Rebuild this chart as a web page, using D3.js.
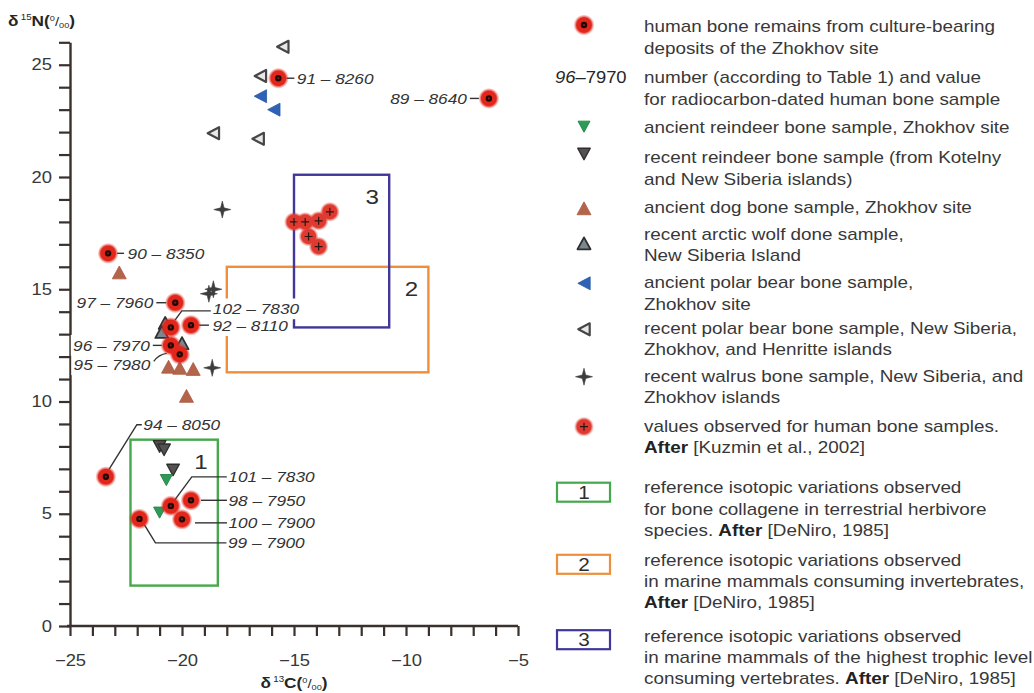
<!DOCTYPE html>
<html>
<head>
<meta charset="utf-8">
<script src="https://cdn.jsdelivr.net/npm/d3@7"></script>
<style>
  html, body { margin: 0; padding: 0; background: #ffffff; }
  svg { display: block; font-family: "Liberation Sans", Arial, Helvetica, sans-serif; }
</style>
</head>
<body>
<svg id="chart" width="1034" height="693"></svg>
<script>
// ---------------------------------------------------------------
// δ13C (‰) and δ15N (‰) values, one array per sample group
// ---------------------------------------------------------------

// radiocarbon-dated human bone: number (Table 1), age, δ13C, δ15N
const humanIds  = ["91", "89", "90", "97", "102", "92", "96", "95", "94", "101", "98", "100", "99"];
const humanAges = ["8260", "8640", "8350", "7960", "7830", "8110", "7970", "7980", "8050", "7830", "7950", "7900", "7900"];
const humanC    = [-15.7, -6.3, -23.3, -20.3, -20.5, -19.6, -20.5, -20.1, -23.4, -20.5, -19.6, -20.0, -21.9];
const humanN    = [24.4, 23.5, 16.6, 14.4, 13.3, 13.4, 12.5, 12.1, 6.65, 5.35, 5.6, 4.75, 4.77];

// [δ13C, δ15N] pairs
const reindeerAncient = [[-20.7, 6.5], [-21.0, 5.05]];
const reindeerRecent  = [[-21.0, 8.0], [-20.8, 7.85], [-20.4, 6.95]];
const dogAncient      = [[-22.8, 15.75], [-20.6, 11.55], [-20.1, 11.5], [-19.5, 11.45], [-19.8, 10.25]];
const wolfRecent      = [[-20.75, 13.5], [-20.9, 13.1], [-20.0, 12.6]];
const bearAncient     = [[-16.5, 23.6], [-15.9, 23.0]];
const bearRecent      = [[-15.5, 25.8], [-16.5, 24.5], [-18.6, 21.95], [-16.6, 21.7]];
const walrusRecent    = [[-18.2, 18.55], [-18.8, 14.8], [-18.6, 15.0], [-18.65, 11.5]];
const humanKuzmin     = [[-15.0, 18.0], [-14.5, 18.0], [-13.9, 18.05], [-13.4, 18.45], [-14.35, 17.35], [-13.9, 16.9]];

// reference ranges after DeNiro (1985): δ13C span, δ15N span
const rangeIds = ["1", "2", "3"];
const rangeC   = [[-22.3, -18.4], [-18.0, -9.0], [-15.0, -10.75]];
const rangeN   = [[1.8, 8.3], [11.3, 16.0], [13.3, 20.1]];

// axis ticks
const xTicks = d3.range(-25, -4, 1);
const yTicks = d3.range(0, 27, 1);
const xTickLabels = [-25, -20, -15, -10, -5];
const yTickLabels = [0, 5, 10, 15, 20, 25];

// legend text
const legendRows = [
  { mark: "humanDated",      lines: ["human bone remains from culture-bearing", "deposits of the Zhokhov site"] },
  { mark: "sampleLabel",     lines: ["number (according to Table 1) and value", "for radiocarbon-dated human bone sample"] },
  { mark: "reindeerAncient", lines: ["ancient reindeer bone sample, Zhokhov site"] },
  { mark: "reindeerRecent",  lines: ["recent reindeer bone sample (from Kotelny", "and New Siberia islands)"] },
  { mark: "dogAncient",      lines: ["ancient dog bone sample, Zhokhov site"] },
  { mark: "wolfRecent",      lines: ["recent arctic wolf done sample,", "New Siberia Island"] },
  { mark: "bearAncient",     lines: ["ancient polar bear bone sample,", "Zhokhov site"] },
  { mark: "bearRecent",      lines: ["recent polar bear bone sample, New Siberia,", "Zhokhov, and Henritte islands"] },
  { mark: "walrusRecent",    lines: ["recent walrus bone sample, New Siberia, and", "Zhokhov islands"] },
  { mark: "humanKuzmin",     lines: ["values observed for human bone samples.", "After [Kuzmin et al., 2002]"] },
  { mark: "range1",          lines: ["reference isotopic variations observed", "for bone collagene in terrestrial herbivore", "species. After [DeNiro, 1985]"] },
  { mark: "range2",          lines: ["reference isotopic variations observed", "in marine mammals consuming invertebrates,", "After [DeNiro, 1985]"] },
  { mark: "range3",          lines: ["reference isotopic variations observed", "in marine mammals of the highest trophic level", "consuming vertebrates. After [DeNiro, 1985]"] }
];

// ---------------------------------------------------------------
// layout
// ---------------------------------------------------------------
const S = 1.15;                 // horizontal text stretch
const svg = d3.select("#chart");
const x = d3.scaleLinear().domain([-25, -5]).range([70, 518]);
const y = d3.scaleLinear().domain([0, 26]).range([626, 626 - 26 * 22.45]);

const INK = "#3a302c";
const TEXT = "#383838";
const rangeColors = ["#45a84b", "#ef8f3b", "#41379a"];

// label placement around each dated sample (pixel offsets from the mark)
const labelLayout = {
  "91":  { leader: [[8, 0], [16, 0]], dx: 18.5, dy: 5.5, anchor: "start" },
  "89":  { leader: [[-19, 0], [-10, 0]], dx: -22, dy: 5.5, anchor: "end" },
  "90":  { leader: [[9, 0], [16, 0]], dx: 19.5, dy: 5.5, anchor: "start" },
  "97":  { leader: [[-19, 0], [-9, 0]], dx: -22, dy: 5.5, anchor: "end" },
  "102": { leader: [[4, -7], [11, -16.5], [40, -16.5]], dx: 42, dy: -13, anchor: "start" },
  "92":  { leader: [[8, 0], [18, 0]], dx: 21.5, dy: 6, anchor: "start" },
  "96":  { leader: [[-18, 0], [-9, 0]], dx: -21, dy: 5.5, anchor: "end" },
  "95":  { curve: "M-26,7 Q-21,0 -13,-1", dx: -29.5, dy: 16, anchor: "end" },
  "94":  { leader: [[3, -7], [31, -52], [36, -52]], dx: 37.5, dy: -46.5, anchor: "start" },
  "101": { leader: [[4, -6], [21, -29], [56, -29]], dx: 57.5, dy: -23.5, anchor: "start" },
  "98":  { leader: [[10, 0], [36, 0]], dx: 37.5, dy: 5.5, anchor: "start" },
  "100": { leader: [[13, 3.5], [45, 3.5]], dx: 46.5, dy: 9, anchor: "start" },
  "99":  { leader: [[5, 6], [16, 24], [87, 24]], dx: 88.5, dy: 29.5, anchor: "start" }
};

// legend placement: baseline of first text line, marker centre
const legendTextX = 644, legendMarkX = 584, legendLineStep = 21.2;
const legendBaselines = [32.3, 83.3, 133.3, 163.3, 213.3, 240, 288.3, 334, 381.7, 431.7, 493.3, 566, 641.7];
const legendMarkY     = [25, 77.7, 126.7, 154, 208.3, 243.3, 283.3, 329.3, 376.7, 426.7, 492.2, 564.3, 639.7];

// ---------------------------------------------------------------
// symbol shapes
// ---------------------------------------------------------------
const triUp = { draw(ctx, size) { const s = Math.sqrt(size), h = s * 0.92;
  ctx.moveTo(0, -h / 2); ctx.lineTo(s / 2, h / 2); ctx.lineTo(-s / 2, h / 2); ctx.closePath(); } };
const triDown = { draw(ctx, size) { const s = Math.sqrt(size), h = s * 0.92;
  ctx.moveTo(0, h / 2); ctx.lineTo(s / 2, -h / 2); ctx.lineTo(-s / 2, -h / 2); ctx.closePath(); } };
const triLeft = { draw(ctx, size) { const s = Math.sqrt(size), h = s * 0.95;
  ctx.moveTo(-h / 2, 0); ctx.lineTo(h / 2, -s / 2); ctx.lineTo(h / 2, s / 2); ctx.closePath(); } };
const star4 = { draw(ctx, size) { const r = Math.sqrt(size) / 2, w = r * 0.2;
  ctx.moveTo(0, -r); ctx.lineTo(w, -w); ctx.lineTo(r, 0); ctx.lineTo(w, w);
  ctx.lineTo(0, r); ctx.lineTo(-w, w); ctx.lineTo(-r, 0); ctx.lineTo(-w, -w); ctx.closePath(); } };

const markStyles = {
  reindeerAncient: { type: triDown, side: 12, fill: "#2f9a57", stroke: "#2b8a4e", sw: 1 },
  reindeerRecent:  { type: triDown, side: 12.5, fill: "#555150", stroke: "#2e2e2e", sw: 1.4 },
  dogAncient:      { type: triUp,   side: 14, fill: "#b4644b", stroke: "#a85a42", sw: 0.8 },
  wolfRecent:      { type: triUp,   side: 13, fill: "#7b8891", stroke: "#2f2f2f", sw: 1.8 },
  bearAncient:     { type: triLeft, side: 13, fill: "#2f62b6", stroke: "#2a57a4", sw: 0.8 },
  bearRecent:      { type: triLeft, side: 12, fill: "#e8e8e8", stroke: "#464646", sw: 2.2 },
  walrusRecent:    { type: star4,   side: 17, fill: "#3d3d3d", stroke: "#3d3d3d", sw: 0.6 }
};

// soft red discs for the human samples
const defs = svg.append("defs");
function glow(id, color) {
  const g = defs.append("radialGradient").attr("id", id);
  g.append("stop").attr("offset", "0%").attr("stop-color", color);
  g.append("stop").attr("offset", "70%").attr("stop-color", color);
  g.append("stop").attr("offset", "84%").attr("stop-color", color).attr("stop-opacity", 0.45);
  g.append("stop").attr("offset", "100%").attr("stop-color", color).attr("stop-opacity", 0);
}
glow("glowDated", "#e2261b");
glow("glowKuzmin", "#e03a30");

function drawMark(g, kind) {
  if (kind === "humanDated") {
    g.append("circle").attr("r", 10.5).attr("fill", "url(#glowDated)");
    g.append("circle").attr("r", 3.2).attr("fill", "#1c0906");
    g.append("circle").attr("r", 1.1).attr("fill", "#8e1b10");
  } else if (kind === "humanKuzmin") {
    g.append("circle").attr("r", 10).attr("fill", "url(#glowKuzmin)");
    g.append("path").attr("d", "M-4,0H4M0,-4V4").attr("stroke", "#2a1512").attr("stroke-width", 1.2);
  } else {
    const st = markStyles[kind];
    g.append("path")
      .attr("d", d3.symbol().type(st.type).size(st.side * st.side)())
      .attr("fill", st.fill).attr("stroke", st.stroke).attr("stroke-width", st.sw)
      .attr("stroke-linejoin", "round");
  }
}

// text placed with the horizontal stretch
function stretchedText(parent, px, py, anchor, size) {
  return parent.append("text")
    .attr("transform", `translate(${px},${py}) scale(${S},1)`)
    .attr("text-anchor", anchor)
    .attr("font-size", size);
}

// ---------------------------------------------------------------
// layers
// ---------------------------------------------------------------
const gRanges  = svg.append("g");
const gAxes    = svg.append("g");
const gLabelBg = svg.append("g");
const gLeaders = svg.append("g");
const gPoints  = svg.append("g");
const gLabels  = svg.append("g");
const gLegend  = svg.append("g");

// reference ranges
rangeIds.forEach((id, i) => {
  const x0 = x(rangeC[i][0]), x1 = x(rangeC[i][1]);
  const y0 = y(rangeN[i][1]), y1 = y(rangeN[i][0]);
  gRanges.append("rect")
    .attr("x", x0).attr("y", y0).attr("width", x1 - x0).attr("height", y1 - y0)
    .attr("fill", "none").attr("stroke", rangeColors[i]).attr("stroke-width", 2.4);
  stretchedText(gRanges, x1 - 17, y0 + 29, "middle", 21)
    .attr("fill", "#2e2e2e").text(id);
});

// axes
const xAxis = d3.axisBottom(x).tickValues(xTicks).tickSize(10).tickSizeOuter(0).tickPadding(19)
  .tickFormat(d => xTickLabels.includes(d) ? d3.format("")(d) : "");
const yAxis = d3.axisLeft(y).tickValues(yTicks).tickSize(11).tickSizeOuter(0).tickPadding(7)
  .tickFormat(d => yTickLabels.includes(d) ? d : "");

const gx = gAxes.append("g").attr("transform", `translate(0,${y(0)})`).call(xAxis);
const gy = gAxes.append("g").attr("transform", `translate(${x(-25)},0)`).call(yAxis);

[gx, gy].forEach(g => {
  g.select(".domain").attr("stroke", INK).attr("stroke-width", 2.4);
  g.selectAll(".tick line").attr("stroke", INK).attr("stroke-width", 2.2);
  g.selectAll(".tick text")
    .attr("font-size", 16).attr("fill", TEXT)
    .attr("font-family", "'Liberation Sans', Arial, sans-serif")
    .each(function () {
      const t = d3.select(this);
      const tx = +t.attr("x") || 0;
      t.attr("x", tx / S).attr("transform", `scale(${S},1)`);
    });
});
gx.select(".domain").attr("d", `M${x(-25) - 3},0H${x(-5)}`);

// axis titles: δ15N (‰) and δ13C (‰)
function isotopeTitle(parent, px, py, anchor, mass, element) {
  const t = stretchedText(parent, px, py, anchor, 15).attr("fill", "#252525");
  t.append("tspan").attr("font-weight", "bold").text("δ");
  t.append("tspan").attr("font-size", 8.5).attr("dx", 2).attr("dy", -6).text(mass);
  t.append("tspan").attr("font-weight", "bold").attr("dy", 6).text(element + "(");
  t.append("tspan").attr("font-size", 8).attr("dy", -5).text("0");
  t.append("tspan").attr("font-size", 13).attr("dy", 5).text("/");
  t.append("tspan").attr("font-size", 8).attr("dy", 2).text("00");
  t.append("tspan").attr("font-weight", "bold").attr("dy", -2).text(")");
  return t;
}
isotopeTitle(gAxes, 8, 26, "start", "15", "N");
isotopeTitle(gAxes, x(-15), 688, "middle", "13", "C");

// sample groups
const groups = [
  ["reindeerRecent", reindeerRecent],
  ["reindeerAncient", reindeerAncient],
  ["dogAncient", dogAncient],
  ["wolfRecent", wolfRecent],
  ["bearRecent", bearRecent],
  ["bearAncient", bearAncient],
  ["walrusRecent", walrusRecent],
  ["humanKuzmin", humanKuzmin]
];
groups.forEach(([kind, pts]) => {
  pts.forEach(([c, n]) => {
    drawMark(gPoints.append("g").attr("transform", `translate(${x(c)},${y(n)})`), kind);
  });
});

// dated human samples with their labels
const line = d3.line();
humanIds.forEach((id, i) => {
  const px = x(humanC[i]), py = y(humanN[i]);
  const L = labelLayout[id];

  if (L.leader) {
    gLeaders.append("path")
      .attr("d", line(L.leader.map(([a, b]) => [px + a, py + b])))
      .attr("fill", "none").attr("stroke", "#333").attr("stroke-width", 1.4);
  } else if (L.curve) {
    gLeaders.append("path").attr("transform", `translate(${px},${py})`)
      .attr("d", L.curve).attr("fill", "none").attr("stroke", "#333").attr("stroke-width", 1.3);
  }

  const t = stretchedText(gLabels, px + L.dx, py + L.dy, L.anchor, 15)
    .attr("fill", "#333").attr("font-style", "italic");
  t.append("tspan").text(id);
  t.append("tspan").text(" – " + humanAges[i]);

  const bb = t.node().getBBox();
  gLabelBg.append("rect")
    .attr("transform", `translate(${px + L.dx},${py + L.dy}) scale(${S},1)`)
    .attr("x", bb.x - 2).attr("y", bb.y - 2).attr("width", bb.width + 4).attr("height", bb.height + 4)
    .attr("fill", "#ffffff");

  drawMark(gPoints.append("g").attr("transform", `translate(${px},${py})`), "humanDated");
});

// ---------------------------------------------------------------
// legend
// ---------------------------------------------------------------
legendRows.forEach((row, i) => {
  const my = legendMarkY[i];
  if (row.mark === "sampleLabel") {
    const t = stretchedText(gLegend, 555, legendBaselines[i], "start", 16).attr("fill", "#262626");
    t.append("tspan").attr("font-style", "italic").text("96");
    t.append("tspan").text("–7970");
  } else if (row.mark.startsWith("range")) {
    const k = +row.mark.slice(5) - 1;
    gLegend.append("rect")
      .attr("x", 557).attr("y", my - 9.5).attr("width", 53).attr("height", 19)
      .attr("fill", "none").attr("stroke", rangeColors[k]).attr("stroke-width", 2.2);
    stretchedText(gLegend, legendMarkX, my + 6.5, "middle", 18).attr("fill", "#2e2e2e").text(rangeIds[k]);
  } else {
    drawMark(gLegend.append("g").attr("transform", `translate(${legendMarkX},${my})`), row.mark);
  }

  row.lines.forEach((ln, j) => {
    const t = stretchedText(gLegend, legendTextX, legendBaselines[i] + j * legendLineStep, "start", 16.4)
      .attr("fill", TEXT);
    ln.split(/(After)/).filter(s => s.length).forEach(part => {
      const sp = t.append("tspan").text(part);
      if (part === "After") sp.attr("font-weight", "bold").attr("fill", "#222");
    });
  });
});
</script>
</body>
</html>
